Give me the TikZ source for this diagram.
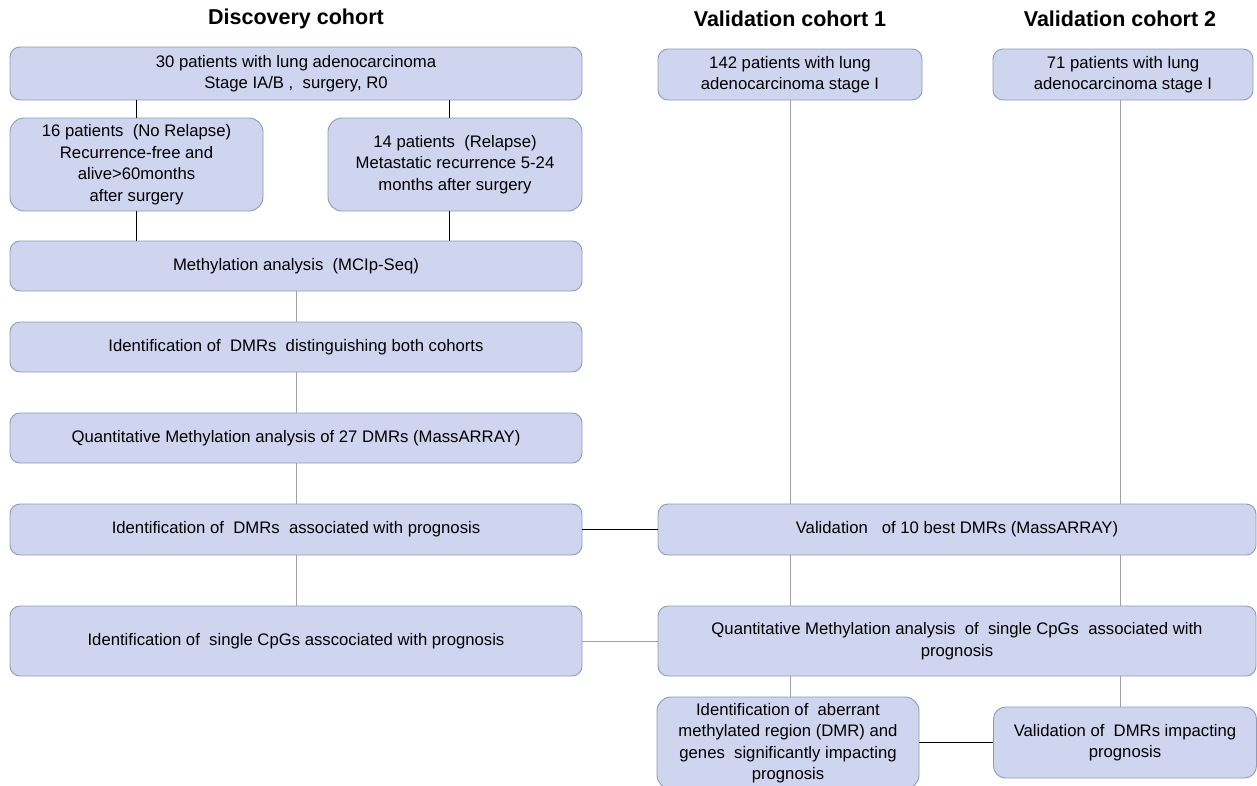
\documentclass[tikz,border=0pt]{standalone}
\usepackage{fontspec}
\setmainfont{Liberation Sans}
\definecolor{boxfill}{HTML}{CFD5EE}
\definecolor{boxline}{HTML}{8E9BB8}
\definecolor{grayline}{HTML}{A0A0A0}
\tikzset{
  box/.style={draw=boxline, fill=boxfill, line width=0.9pt, rounded corners=10pt, inner sep=0pt, align=center,
    font=\fontsize{16.7}{21.5}\selectfont},
  head/.style={font=\fontsize{21.5}{24}\selectfont\bfseries, inner sep=0pt},
  blk/.style={draw=black, line width=1pt},
  gry/.style={draw=grayline, line width=1pt},
}
\begin{document}
\begin{tikzpicture}[x=1pt,y=-1pt]
\useasboundingbox (0,0) rectangle (1257,785);
\clip (0,0) rectangle (1257,785);
\fill[white] (0,0) rectangle (1257,785);
% headers
\node[head] (h1) at (296,19) {Discovery cohort};
\node[head] (h2) at (790,19) {Validation cohort 1};
\node[head] (h3) at (1120,19) {Validation cohort 2};
% discovery boxes
\node[box, minimum width=572pt, minimum height=53pt] (top) at (296,73.5) {30 patients with lung adenocarcinoma\\Stage IA/B ,\ \ surgery, R0};
\node[box, minimum width=253pt, minimum height=93pt, rounded corners=14pt] (p16) at (136.5,164.5) {16 patients\ \ (No Relapse)\\Recurrence-free and\\alive>60months\\after surgery};
\node[box, minimum width=254pt, minimum height=93pt, rounded corners=14pt] (p14) at (455,164.5) {14 patients\ \ (Relapse)\\Metastatic recurrence 5-24\\months after surgery};
\node[box, minimum width=572pt, minimum height=50pt] (meth) at (296,266) {Methylation analysis\ \ (MCIp-Seq)};
\node[box, minimum width=572pt, minimum height=50pt] (dist) at (296,347) {Identification of\ \ DMRs\ \ distinguishing both cohorts};
\node[box, minimum width=572pt, minimum height=50pt] (quant) at (296,438) {Quantitative Methylation analysis of 27 DMRs (MassARRAY)};
\node[box, minimum width=572pt, minimum height=51pt] (prog) at (296,529.5) {Identification of\ \ DMRs\ \ associated with prognosis};
\node[box, minimum width=572pt, minimum height=70pt] (single) at (296,641) {Identification of\ \ single CpGs asscociated with prognosis};
% validation boxes
\node[box, minimum width=264pt, minimum height=51pt] (c142) at (790,74.5) {142 patients with lung\\adenocarcinoma stage I};
\node[box, minimum width=260pt, minimum height=51pt] (c71) at (1123,74.5) {71 patients with lung\\adenocarcinoma stage I};
\node[box, minimum width=598pt, minimum height=51pt] (val10) at (957,529.5) {Validation\ \ \ of 10 best DMRs (MassARRAY)};
\node[box, minimum width=598pt, minimum height=70pt] (qcpg) at (957,641) {Quantitative Methylation analysis\ \ of\ \ single CpGs\ \ associated with\\prognosis};
\node[box, minimum width=262pt, minimum height=92pt, rounded corners=14pt] (aber) at (788,743) {Identification of\ \ aberrant\\methylated region (DMR) and\\genes\ \ significantly impacting\\prognosis};
\node[box, minimum width=263pt, minimum height=71pt, rounded corners=12pt] (valdmr) at (1125,742.5) {Validation of\ \ DMRs impacting\\prognosis};
% connectors
\coordinate (xa) at (136,0);
\coordinate (xb) at (449,0);
\coordinate (xc) at (296,0);
\coordinate (xd) at (790,0);
\coordinate (xe) at (1120,0);
\draw[blk] (top.south -| xa) -- (p16.north -| xa);
\draw[blk] (top.south -| xb) -- (p14.north -| xb);
\draw[blk] (p16.south -| xa) -- (meth.north -| xa);
\draw[blk] (p14.south -| xb) -- (meth.north -| xb);
\draw[gry] (meth.south -| xc) -- (dist.north -| xc);
\draw[gry] (dist.south -| xc) -- (quant.north -| xc);
\draw[gry] (quant.south -| xc) -- (prog.north -| xc);
\draw[gry] (prog.south -| xc) -- (single.north -| xc);
\draw[blk] (prog.east) -- (val10.west |- prog.east);
\draw[gry] (single.east) -- (qcpg.west |- single.east);
\draw[gry] (c142.south -| xd) -- (val10.north -| xd);
\draw[gry] (c71.south -| xe) -- (val10.north -| xe);
\draw[gry] (val10.south -| xd) -- (qcpg.north -| xd);
\draw[gry] (val10.south -| xe) -- (qcpg.north -| xe);
\draw[gry] (qcpg.south -| xd) -- (aber.north -| xd);
\draw[gry] (qcpg.south -| xe) -- (valdmr.north -| xe);
\draw[blk] (aber.east |- valdmr.west) -- (valdmr.west);
\end{tikzpicture}
\end{document}
